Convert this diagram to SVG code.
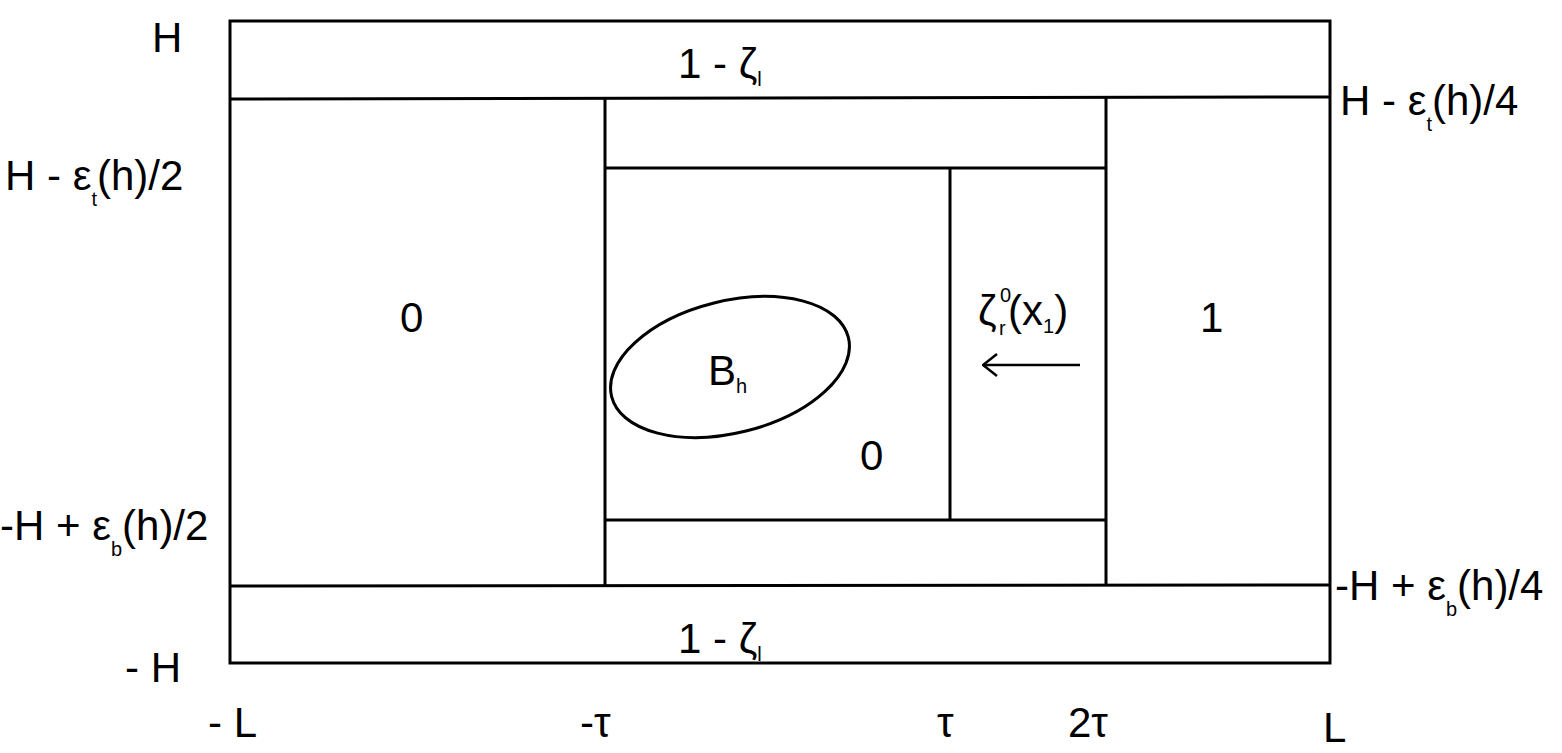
<svg xmlns="http://www.w3.org/2000/svg" width="1562" height="753" viewBox="0 0 1562 753">
<defs>
<style>
text{font-family:"Liberation Sans",Arial,sans-serif;font-size:42px;fill:#000}
.s{font-size:20px}
.l{stroke:#000;stroke-width:3;fill:none}
</style>
<marker id="ah" markerWidth="16" markerHeight="24" refX="15" refY="12" orient="auto" markerUnits="userSpaceOnUse">
<path d="M1,1 L15,12 L1,23" fill="none" stroke="#000" stroke-width="2.5"/>
</marker>
</defs>
<rect width="1562" height="753" fill="#fff"/>
<g id="connectors">
<rect class="l" x="230" y="21" width="1100" height="642"/>
<line class="l" x1="230" y1="99" x2="1330" y2="97"/>
<line class="l" x1="230" y1="586" x2="1330" y2="585"/>
<line class="l" x1="605" y1="98" x2="605" y2="586"/>
<line class="l" x1="1106" y1="98" x2="1106" y2="586"/>
<line class="l" x1="605" y1="168" x2="1106" y2="168"/>
<line class="l" x1="605" y1="520" x2="1106" y2="520"/>
<line class="l" x1="950" y1="168" x2="950" y2="520"/>
<line x1="1080" y1="365" x2="983" y2="365" stroke="#000" stroke-width="2.5" marker-end="url(#ah)"/>
</g>
<g id="ellipse"><ellipse class="l" cx="730" cy="367" rx="122" ry="66" transform="rotate(-14 730 367)"/></g>
<g id="labels">
<text x="152" y="52">H</text>
<text x="678" y="78">1 - ζ<tspan class="s" dy="8">l</tspan></text>
<text x="1340" y="115">H - ε<tspan class="s" dy="16">t</tspan><tspan dy="-16">(h)/4</tspan></text>
<text x="5" y="190">H - ε<tspan class="s" dy="16">t</tspan><tspan dy="-16">(h)/2</tspan></text>
<text x="400" y="332">0</text>
<text x="1200" y="332">1</text>
<text x="708" y="385">B<tspan class="s" dy="8">h</tspan></text>
<text x="860" y="470">0</text>
<text x="978" y="325">ζ</text>
<text class="s" x="1000" y="302">0</text>
<text class="s" x="999" y="335">r</text>
<text x="1008" y="325">(x<tspan class="s" dy="8">1</tspan><tspan dy="-8">)</tspan></text>
<text x="0" y="540">-H + ε<tspan class="s" dy="16">b</tspan><tspan dy="-16">(h)/2</tspan></text>
<text x="1335" y="600">-H + ε<tspan class="s" dy="16">b</tspan><tspan dy="-16">(h)/4</tspan></text>
<text x="678" y="653">1 - ζ<tspan class="s" dy="8">l</tspan></text>
<text x="125" y="682">- H</text>
<text x="208" y="737">- L</text>
<text x="580" y="737">-τ</text>
<text x="937" y="737">τ</text>
<text x="1068" y="737">2τ</text>
<text x="1323" y="742">L</text>
</g>
</svg>
